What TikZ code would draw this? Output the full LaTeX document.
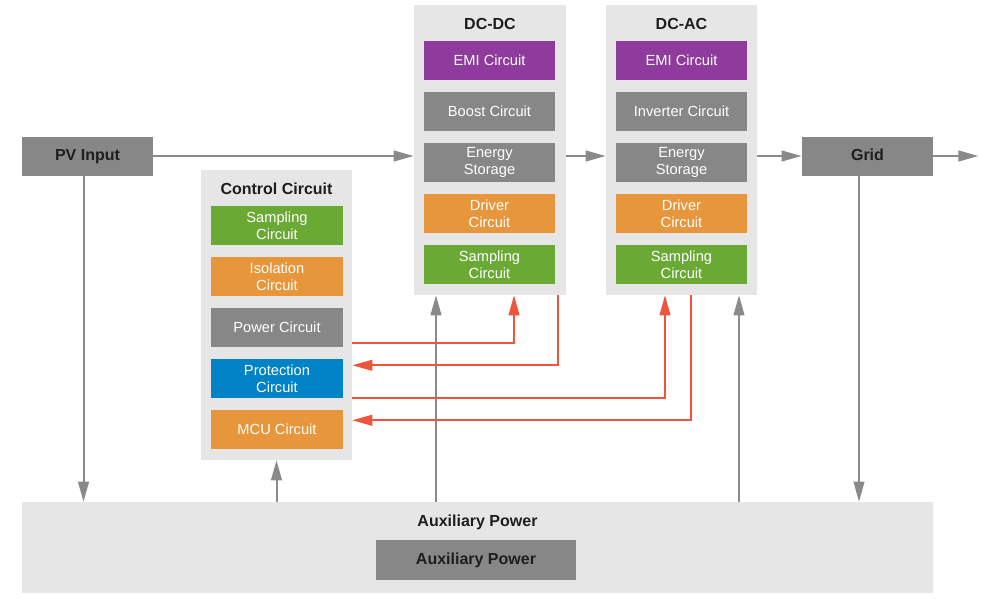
\documentclass[tikz,border=0pt]{standalone}
\usepackage{fontspec}
\setmainfont{Liberation Sans}
\usetikzlibrary{arrows.meta, positioning, fit, calc}
\definecolor{panel-grey}{HTML}{E6E6E6}
\definecolor{blk-grey}{HTML}{878787}
\definecolor{emi-purple}{HTML}{8E3B9D}
\definecolor{drv-orange}{HTML}{E8963B}
\definecolor{smp-green}{HTML}{69A934}
\definecolor{prt-blue}{HTML}{0082C6}
\definecolor{sig-red}{HTML}{EF553C}
\definecolor{line-grey}{HTML}{8A8A8A}
\definecolor{ink}{HTML}{1E1E1E}

\begin{document}
\begin{tikzpicture}[
  x=0.75pt, y=-0.75pt,
  node distance=8.6pt,
  panel/.style={rectangle, fill=panel-grey, inner sep=0pt},
  ttl/.style={font=\fontsize{12}{14}\selectfont\bfseries, text=ink},
  blk/.style={rectangle, fill=blk-grey, minimum width=98.5pt, minimum height=29.25pt,
              inner sep=0pt, align=center, text=white, font=\fontsize{11}{12.5}\selectfont},
  io/.style={blk, text=ink, text height=8.8pt, text depth=2.6pt,
             font=\fontsize{12}{14}\selectfont\bfseries},
  arr/.style={-{Triangle[length=15pt,width=8pt]}, line width=1.5pt, line-grey},
  sig/.style={-{Triangle[length=15pt,width=8pt]}, line width=1.5pt, sig-red}
]
  \useasboundingbox (0,0) rectangle (1000,600);

  % panels
  \node[panel, fit={(414,5) (566,295)}] (dcdc) {};
  \node[panel, fit={(606,5) (757,295)}] (dcac) {};
  \node[panel, fit={(201,170) (352,460)}] (ctrl) {};
  \node[panel, fit={(22,502) (933,593)}] (aux) {};

  \node[ttl] (dcdc-title) at (490,24) {DC-DC};
  \node[ttl] (dcac-title) at (681.5,24) {DC-AC};
  \node[ttl] (ctrl-title) at (276.5,189) {Control Circuit};
  \node[ttl] (aux-title) at (477.5,522) {Auxiliary Power};

  \node[io] (pv) at (87.5,156) {PV Input};
  \node[io] (grid) at (867.5,156) {Grid};
  \node[io, minimum width=150pt, minimum height=30pt] (aux-box) at (476,560) {Auxiliary Power};

  % DC-DC stage
  \node[blk, fill=emi-purple] (dd-emi) at (489.5,60.5) {EMI Circuit};
  \node[blk, below=of dd-emi] (dd-boost) {Boost Circuit};
  \node[blk, below=of dd-boost] (dd-es) {Energy\\Storage};
  \node[blk, fill=drv-orange, below=of dd-es] (dd-drv) {Driver\\Circuit};
  \node[blk, fill=smp-green, below=of dd-drv] (dd-smp) {Sampling\\Circuit};

  % DC-AC stage
  \node[blk, fill=emi-purple] (da-emi) at (681.5,60.5) {EMI Circuit};
  \node[blk, below=of da-emi] (da-inv) {Inverter Circuit};
  \node[blk, below=of da-inv] (da-es) {Energy\\Storage};
  \node[blk, fill=drv-orange, below=of da-es] (da-drv) {Driver\\Circuit};
  \node[blk, fill=smp-green, below=of da-drv] (da-smp) {Sampling\\Circuit};

  % control circuit
  \node[blk, fill=smp-green] (smp) at (277,225.5) {Sampling\\Circuit};
  \node[blk, fill=drv-orange, below=of smp] (iso) {Isolation\\Circuit};
  \node[blk, below=of iso] (pow) {Power Circuit};
  \node[blk, fill=prt-blue, below=of pow] (prot) {Protection\\Circuit};
  \node[blk, fill=drv-orange, below=of prot] (mcu) {MCU Circuit};

  % power path
  \draw[arr] (pv.east) -- (pv.east -| dcdc.west);
  \draw[arr] (dcdc.east |- grid.west) -- (dcac.west |- grid.west);
  \draw[arr] (dcac.east |- grid.west) -- (grid.west);
  \draw[arr] (grid.east) -- ++(45,0);

  % auxiliary supply
  \coordinate (pv-down) at ($(pv.south)+(-4,0)$);
  \coordinate (grid-down) at ($(grid.south)+(-8.5,0)$);
  \coordinate (dd-up) at ($(dcdc.south)+(-54,0)$);
  \coordinate (da-up) at ($(dcac.south)+(57.5,0)$);
  \draw[arr] (pv-down) -- (pv-down |- aux.north);
  \draw[arr] (grid-down) -- (grid-down |- aux.north);
  \draw[arr] (aux.north -| ctrl.south) -- (ctrl.south);
  \draw[arr] (dd-up |- aux.north) -- (dd-up);
  \draw[arr] (da-up |- aux.north) -- (da-up);

  % control signals
  \draw[sig] ($(dcdc.south -| ctrl.east)+(0,48)$) -| ($(dcdc.south)+(24,0)$);
  \draw[sig] ($(dcdc.south)+(68,0)$) |- ($(dcdc.south -| ctrl.east)+(0,70)$);
  \draw[sig] ($(dcdc.south -| ctrl.east)+(0,103)$) -| ($(dcac.south)+(-16.5,0)$);
  \draw[sig] ($(dcac.south)+(9.5,0)$) |- ($(dcdc.south -| ctrl.east)+(0,125)$);

\end{tikzpicture}
\end{document}
